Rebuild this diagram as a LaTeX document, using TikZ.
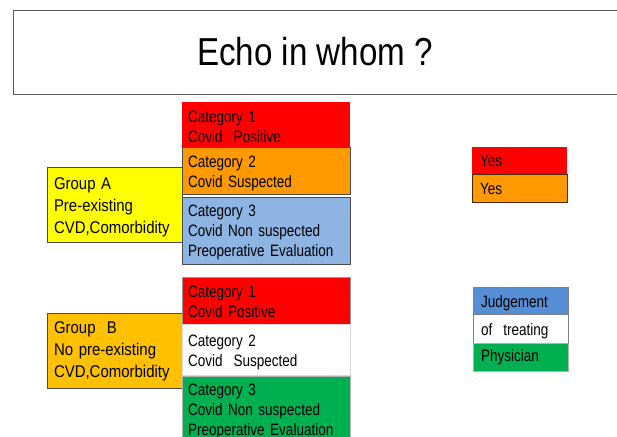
\documentclass[tikz,border=0pt]{standalone}
\usepackage{fontspec}
\usepackage{graphicx}
\setmainfont{Liberation Sans}
\newfontfamily\catfont{Liberation Sans}[FakeStretch=0.82]
\newfontfamily\grpfont{Liberation Sans}[FakeStretch=0.88]
\newfontfamily\titlefont{Liberation Sans}[FakeStretch=0.85]
\definecolor{cred}{HTML}{FF0000}
\definecolor{corange}{HTML}{FF9900}
\definecolor{cblue}{HTML}{8DB4E2}
\definecolor{cyellow}{HTML}{FFFF00}
\definecolor{cgold}{HTML}{FFC000}
\definecolor{cgreen}{HTML}{00B050}
\definecolor{cjblue}{HTML}{558ED5}
\newcommand{\tx}[2][-3pt]{\raisebox{#1}[\height][\depth]{\begin{tabular}{@{}l@{}}#2\end{tabular}}}
\tikzset{
  box/.style={anchor=north west, inner sep=0pt, inner xsep=6pt, align=left, outer sep=0pt},
  catbox/.style={box, minimum width=168pt, font=\catfont\fontsize{16.5}{20}\selectfont, text width=156pt},
  grpbox/.style={box, minimum width=135pt, minimum height=75pt, inner xsep=7pt, text width=121pt,
    font=\grpfont\fontsize{17}{22}\selectfont, draw=black!70},
  sidebox/.style={box, minimum width=95pt, inner xsep=8pt, text width=79pt,
    font=\catfont\fontsize{16.5}{18}\selectfont},
}
\begin{document}
\begin{tikzpicture}[x=1pt,y=-1pt]
\useasboundingbox (0,0) rectangle (617,436);
\clip (0,0) rectangle (617,436);
% title
\node[anchor=north west, minimum width=610pt, minimum height=84pt, draw=black!65, inner sep=0pt, outer sep=0pt,
  font=\titlefont\fontsize{39}{44}\selectfont] (title) at (13,10) {\hspace*{-6pt}Echo in whom ?};
% Group A
\node[grpbox, fill=cyellow] (ga) at (47,167) {\tx[-2.5pt]{Group A\\Pre-existing\\CVD,Comorbidity}};
\node[catbox, fill=cred, minimum height=45pt] (a1) at (182,102) {\tx[-3.5pt]{Category 1\\Covid\ \ Positive}};
\node[catbox, fill=corange, draw=black!70, minimum height=47pt] (a2) at (182,147) {\tx[-2.5pt]{Category 2\\Covid Suspected}};
\node[catbox, fill=cblue, draw=black!70, minimum height=67pt] (a3) at (182,197) {\tx[-1.5pt]{Category 3\\Covid Non suspected\\Preoperative Evaluation}};
% Group B
\node[grpbox, fill=cgold] (gb) at (47,313) {\tx[-1pt]{Group\ \ B\\No pre-existing\\CVD,Comorbidity}};
\node[catbox, fill=cred, draw=black!40, minimum height=47pt] (b1) at (182,277) {\tx[-2.5pt]{Category 1\\Covid Positive}};
\node[catbox, fill=white, draw=black!15, minimum height=51pt] (b2) at (182,324) {\tx[-2.5pt]{Category 2\\Covid\ \ Suspected}};
\node[catbox, fill=cgreen, draw=black!30, minimum height=70pt] (b3) at (182,376) {\tx[0pt]{Category 3\\Covid Non suspected\\Preoperative Evaluation}};
% right side
\node[sidebox, fill=cred, minimum height=27pt] (y1) at (472,147) {\tx[-2.5pt]{Yes}};
\node[sidebox, fill=corange, draw=black!70!orange, minimum height=28pt] (y2) at (472,174) {\tx[-3pt]{Yes}};
\node[sidebox, fill=cjblue, draw=black!50, minimum height=27pt] (j1) at (473,287) {\tx[-3.5pt]{Judgement}};
\node[sidebox, fill=white, draw=black!50, minimum height=29pt] (j2) at (473,314) {\tx[-3pt]{of\ \ treating}};
\node[sidebox, fill=cgreen, draw=black!30, minimum height=28pt] (j3) at (473,343) {\tx[-1pt]{Physician}};
\end{tikzpicture}
\end{document}
